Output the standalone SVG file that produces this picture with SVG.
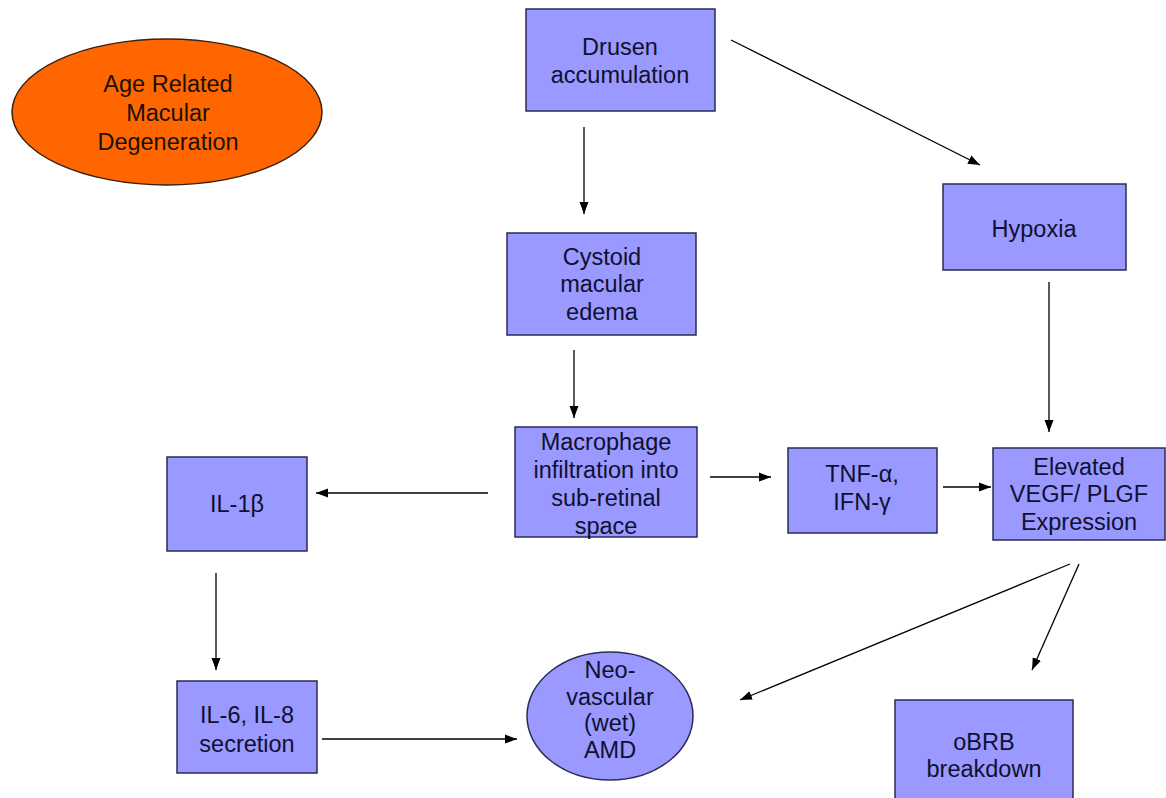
<svg xmlns="http://www.w3.org/2000/svg" width="1166" height="798" viewBox="0 0 1166 798">
<defs>
<style>
.box{fill:#9999FF;stroke:#2b2b55;stroke-width:1.5}
.amd{fill:#FF6600;stroke:#3a2010;stroke-width:1.5}
.neo{fill:#9999FF;stroke:#2b2b55;stroke-width:1.5}
text{font-family:"Liberation Sans",Arial,sans-serif;font-size:23.5px;fill:#101030;text-anchor:middle}
.amdt{fill:#1a1008}
.conn line{stroke:#000;stroke-width:1.3;fill:none;marker-end:url(#ah)}
</style>
<marker id="ah" viewBox="0 0 12 10" refX="12" refY="5" markerWidth="12" markerHeight="10" markerUnits="userSpaceOnUse" orient="auto">
<path d="M0,0.5 L12,5 L0,9.5 Z" fill="#000"/>
</marker>
</defs>
<rect width="1166" height="798" fill="#fff"/>
<g class="conn" id="connectors">
<line x1="584" y1="127" x2="584" y2="214"/>
<line x1="731" y1="40" x2="980" y2="165"/>
<line x1="574" y1="350" x2="574" y2="418"/>
<line x1="1049" y1="282" x2="1049" y2="432"/>
<line x1="488" y1="493" x2="316" y2="493"/>
<line x1="710" y1="477" x2="771" y2="477"/>
<line x1="943" y1="487" x2="991" y2="487"/>
<line x1="216" y1="573" x2="216" y2="670"/>
<line x1="322" y1="739" x2="517" y2="739"/>
<line x1="1070" y1="564" x2="740" y2="700"/>
<line x1="1079" y1="564" x2="1032" y2="670"/>
</g>
<g id="amd">
<ellipse class="amd" cx="167" cy="112" rx="155" ry="73"/>
<text class="amdt" x="168" y="92">Age Related</text>
<text class="amdt" x="168" y="121">Macular</text>
<text class="amdt" x="168" y="150">Degeneration</text>
</g>
<g id="drusen">
<rect class="box" x="526" y="9" width="189" height="102"/>
<text x="620" y="55">Drusen</text>
<text x="620" y="83">accumulation</text>
</g>
<g id="hypoxia">
<rect class="box" x="943" y="184" width="183" height="86"/>
<text x="1034" y="237">Hypoxia</text>
</g>
<g id="cystoid">
<rect class="box" x="507" y="233" width="189" height="102"/>
<text x="602" y="265">Cystoid</text>
<text x="602" y="292">macular</text>
<text x="602" y="320">edema</text>
</g>
<g id="macrophage">
<rect class="box" x="515" y="427" width="182" height="110"/>
<text x="606" y="450">Macrophage</text>
<text x="606" y="478">infiltration into</text>
<text x="606" y="506">sub-retinal</text>
<text x="606" y="534">space</text>
</g>
<g id="il1b">
<rect class="box" x="167" y="457" width="140" height="94"/>
<text x="237" y="512">IL-1β</text>
</g>
<g id="tnf">
<rect class="box" x="788" y="448" width="149" height="85"/>
<text x="862" y="482">TNF-α,</text>
<text x="862" y="510">IFN-γ</text>
</g>
<g id="vegf">
<rect class="box" x="993" y="448" width="172" height="92"/>
<text x="1079" y="475">Elevated</text>
<text x="1079" y="502">VEGF/ PLGF</text>
<text x="1079" y="530">Expression</text>
</g>
<g id="il6">
<rect class="box" x="177" y="681" width="140" height="92"/>
<text x="247" y="723">IL-6, IL-8</text>
<text x="247" y="752">secretion</text>
</g>
<g id="neo">
<ellipse class="neo" cx="610" cy="716" rx="83" ry="64"/>
<text x="610" y="678">Neo-</text>
<text x="610" y="705">vascular</text>
<text x="610" y="731">(wet)</text>
<text x="610" y="758">AMD</text>
</g>
<g id="obrb">
<rect class="box" x="895" y="700" width="178" height="110"/>
<text x="984" y="750">oBRB</text>
<text x="984" y="777">breakdown</text>
</g>
</svg>
